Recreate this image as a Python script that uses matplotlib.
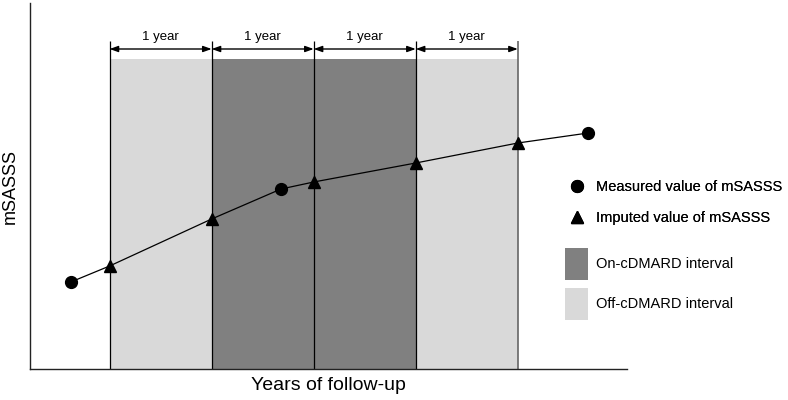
import matplotlib.pyplot as plt
from matplotlib.lines import Line2D
from matplotlib.patches import Patch

plt.rcParams['font.family'] = ['Liberation Sans', 'DejaVu Sans']

# interval boundaries (years) and treatment status of each 1-year interval
edges = [0, 1, 2, 3, 4]
status = ['off', 'on', 'on', 'off']
interval_label = '1 year'

# measured mSASSS (circles) and imputed values at interval boundaries (triangles)
measured_x = [-0.38, 1.68, 4.69]
measured_y = [8.7, 18.0, 23.6]
imputed_x = [0, 1, 2, 3, 4]
imputed_y = [10.3, 15.0, 18.7, 20.6, 22.6]

fill = {'on': '#808080', 'off': '#d9d9d9'}

fig = plt.figure(figsize=(7.88, 4.0), dpi=100)
ax = fig.add_axes([30 / 788, 31 / 400, 597 / 788, 366 / 400])

shade_top = 31.0
for i, s in enumerate(status):
    ax.bar(edges[i], shade_top, width=edges[i + 1] - edges[i], align='edge',
           color=fill[s], linewidth=0, zorder=1)

ax.vlines(edges[:-1], 0, 32.8, color='black', lw=0.9, zorder=2)
ax.vlines(edges[-1], 0, 32.8, color='#666666', lw=1.2, zorder=2)

for a, b in zip(edges[:-1], edges[1:]):
    ax.annotate('', xy=(b, 32.0), xytext=(a, 32.0),
                arrowprops=dict(arrowstyle='<|-|>,head_length=0.5,head_width=0.18',
                                color='black', lw=1.0, shrinkA=0, shrinkB=0),
                zorder=3)
    ax.text((a + b) / 2, 32.9, interval_label, ha='center', va='baseline', fontsize=9.5)

# connecting line through all points in time order
pts = sorted(zip(measured_x + imputed_x, measured_y + imputed_y))
ax.plot([p[0] for p in pts], [p[1] for p in pts], color='black', lw=0.9, zorder=4)
ax.plot(measured_x, measured_y, 'o', color='black', ms=8.5, zorder=5, clip_on=False)
ax.plot(imputed_x, imputed_y, '^', color='black', ms=9, zorder=5, clip_on=False)

ax.set_xlim(-0.78, 5.07)
ax.set_ylim(0, 36.6)
ax.set_xticks([])
ax.set_yticks([])
for side in ['top', 'right']:
    ax.spines[side].set_visible(False)
for side in ['left', 'bottom']:
    ax.spines[side].set_linewidth(1.0)
    ax.spines[side].set_color('#222222')

ax.set_xlabel('Years of follow-up', fontsize=14, labelpad=6)
ax.set_ylabel('mSASSS', fontsize=13, labelpad=8)

marker_handles = [
    Line2D([], [], marker='o', ls='none', color='black', ms=8.5),
    Line2D([], [], marker='^', ls='none', color='black', ms=9),
]
leg1 = fig.legend(marker_handles, ['Measured value of mSASSS', 'Imputed value of mSASSS'],
                  loc='upper left', bbox_to_anchor=(565 / 788, 1 - 180 / 400),
                  frameon=False, fontsize=10.5, borderpad=0, borderaxespad=0,
                  handlelength=1.6, handletextpad=0.5, labelspacing=1.2)

patch_handles = [Patch(color=fill['on'], lw=0), Patch(color=fill['off'], lw=0)]
leg2 = fig.legend(patch_handles, ['On-cDMARD interval', 'Off-cDMARD interval'],
                  loc='upper left', bbox_to_anchor=(565 / 788, 1 - 248 / 400),
                  frameon=False, fontsize=10.5, borderpad=0, borderaxespad=0,
                  handlelength=1.6, handleheight=3.0, handletextpad=0.5,
                  labelspacing=0.55)
fig.add_artist(leg1)

fig.savefig('out.png', dpi=100)
